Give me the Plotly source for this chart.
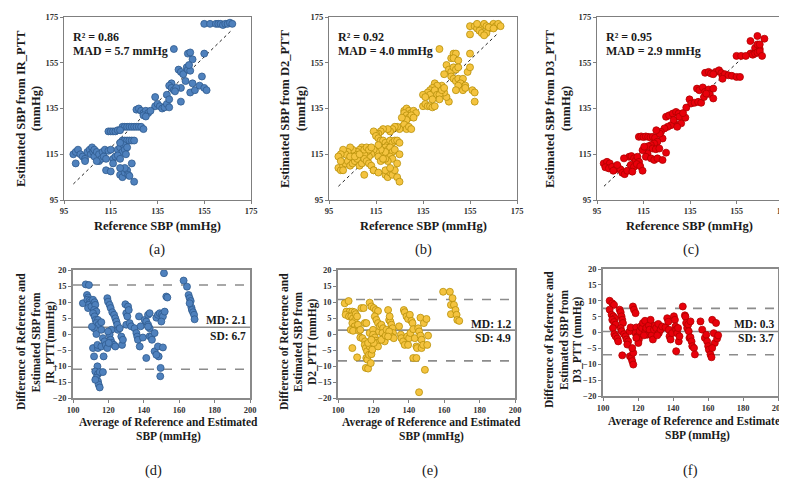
import plotly.graph_objects as go

W, H = 787, 481
FONT = "Liberation Serif"

# ---------------- data : top row (reference vs estimated SBP) ----------------
a_ref = [155, 157.5, 160, 161, 162, 163, 164, 165, 166, 167,
         142, 148, 149, 155, 150,
         144, 145, 146, 147.5, 148, 149, 148.5, 154,
         145, 141, 140, 141, 142, 143, 142.5, 147, 150, 149, 151, 153, 155, 156,
         145, 139,
         134, 134, 135, 136, 137, 138, 139, 140, 140,
         126, 127, 128, 129, 130, 131, 132, 129, 130,
         120, 121, 122, 123, 124, 125, 126, 127, 128, 129,
         114, 115, 116, 117, 118, 119,
         120, 121, 122, 123, 124, 125,
         118, 119, 120, 120.5, 121, 122, 121.5, 119,
         99, 100, 101, 102, 103, 104, 105, 106, 106.5, 107, 107.5, 108, 108, 109, 110,
         110, 111, 111.5, 112, 112.5, 113, 114, 115, 116, 117,
         100, 104, 109, 113, 115, 116, 118, 119,
         119, 120, 121, 122, 122.5, 123, 121, 119, 124, 125]
a_est = [172, 172, 172, 172, 172, 171.5, 172, 172, 172.5, 172,
         161, 159, 159.5, 159, 156.5,
         152, 151, 150, 153, 152, 151.5, 154, 149,
         144, 146, 145, 144, 143, 144, 142.5, 147, 146, 142, 143, 145, 144, 143,
         138, 141,
         140, 136, 137, 136, 135, 135.5, 137, 135.5, 139,
         134.5, 135, 134, 133, 134, 133, 134, 132, 131.5,
         127, 127, 127, 127, 127, 127, 127, 127, 127, 126,
         125, 125, 125, 125, 125.5, 125.5,
         121, 121, 121, 121, 121, 121,
         117, 118, 116, 119, 117, 118, 115, 120,
         115, 116, 117, 115, 114, 113, 116, 117, 115, 118, 116, 117, 114, 116, 115,
         112, 113, 116, 114, 117, 113, 116.5, 117, 113, 114,
         111, 112, 112, 108, 107.5, 111, 114.5, 113,
         106, 105, 107, 108, 106, 105.5, 109, 109, 111, 103]
a_fit_x = [99, 166.5]
a_fit_y = [102, 169]

b_ref = [155, 157, 158, 160, 161, 162, 163, 164, 165, 166, 167, 168, 159, 160, 162, 163, 158, 165, 155, 161,
         142, 155, 147, 148, 149, 148, 150,
         145, 146, 147, 148, 149, 150, 147, 148, 149, 150, 152, 151, 153, 150, 149, 152, 153, 154, 155, 156,
         157, 157, 146, 145, 144, 143, 144,
         140, 141, 139, 138, 137, 138, 140, 141, 142, 142, 143, 144, 139, 135, 136, 137, 138, 139, 140, 135, 136,
         127, 128, 129, 130, 131, 132, 127, 128, 129, 130, 131, 128, 126,
         126, 127, 128, 129, 130, 125, 124, 123, 122, 121, 120, 118, 117, 116, 115, 114, 115, 116, 117,
         118, 119, 120, 121, 122, 123, 124, 125, 119, 120, 121, 122, 123, 121, 122, 120, 119, 124, 125, 118, 119, 117, 116,
         115, 114, 116, 117, 118, 113, 112, 111, 110, 109, 108, 107, 106, 105, 104, 103, 102, 101, 100, 99,
         99, 100, 101, 102, 103, 104, 105, 106, 107, 108, 109, 110, 111, 112, 113, 114, 100, 101, 104, 106,
         108, 110, 111, 112, 113,
         110, 114, 116, 119, 120, 121, 122, 123, 124, 125, 119, 121]
b_est = [171, 171, 170, 171, 172, 171, 170, 171, 172, 171, 172, 171, 169, 168, 168, 170.5, 172, 170, 167.4, 167,
         161, 159, 157, 159, 159, 157, 156,
         154, 152, 151, 153, 152, 153, 149, 148, 147, 148, 148, 146, 145, 145, 143, 143, 144, 151, 153, 143,
         142, 138, 138, 140, 142, 145, 150,
         146, 145, 144, 143, 142, 141, 143, 141, 141, 139, 143, 144, 139, 136, 137, 136, 136, 135.5, 136, 141, 140,
         134, 135, 134, 133, 134, 133, 133, 132, 131, 132, 131, 130, 131,
         127, 128, 126, 127, 126, 126, 127, 127, 126, 125, 126, 126, 125, 124, 124, 125, 123, 122, 121,
         121, 120, 119, 121, 120, 121, 121, 120, 118, 117, 118, 116, 117, 114, 113, 112, 113, 111, 115, 115, 116, 117, 119,
         116, 117, 114, 112, 113, 115, 114, 116, 115, 118, 117, 116, 115, 117, 118, 116, 115, 117, 115, 114,
         109, 108, 110, 111, 112, 110, 111, 112, 113, 110, 111, 113, 112, 111, 110, 108, 112, 108, 114, 114,
         115, 117, 118, 117, 118,
         106, 108, 107, 106, 105, 107, 106, 108, 105, 103, 108, 109]
b_fit_x = [99, 167]
b_fit_y = [101, 168]

c_ref = [164, 167, 161, 163, 165, 161, 162, 163, 164, 165, 166, 155, 157, 159, 164, 165,
         141.5, 143, 144, 146, 147.5, 148.5, 149, 150, 151.5, 153, 155, 156.5, 149, 145,
         138, 139, 140.5, 141.5, 143, 143.5, 145, 145, 134.8, 135.5, 137, 138.5, 139.8, 133.4, 141, 142,
         124.7, 126, 127.6, 129, 130.1, 131.2, 128.3, 126.8, 125.4, 124, 129.5, 128, 130.4, 133, 132,
         113, 114, 115, 116, 117, 118, 119, 120, 122.5, 123.2, 121, 119.6, 118.2, 117, 118.9,
         120.3, 121.8, 116.7, 116, 118.2, 119.6, 121, 123.2, 124.7, 114.6, 115.3, 122, 120.5,
         97.9, 99.3, 100.5, 98.6, 100.1, 101.5, 103, 104, 105.1, 105.9, 106.9, 108, 108.8, 109.8,
         110.9, 111.7, 112.4, 113.1, 109.5, 110.9, 112.1, 113.6, 114.6, 106.6, 103.7, 102, 110.2]
c_est = [166.7, 165.5, 164.5, 161.5, 161, 159, 158.5, 159, 159.5, 160, 158, 158, 158, 158, 163, 163,
         150.6, 151, 150.3, 151, 151.7, 150.5, 149, 150, 149.5, 149.3, 148.8, 148.8, 148, 150,
         143.7, 143, 144.2, 142.3, 143.3, 141.3, 139.4, 143.7, 139, 137.2, 137.5, 137.9, 137.5, 135.4, 140, 141.5,
         131.4, 132, 132.8, 133.5, 132.8, 128.5, 128.5, 127.7, 127, 126.3, 127, 130, 131.4, 131, 133,
         122.6, 122.8, 122.5, 122.8, 122.6, 122.4, 122.6, 122.2, 124.8, 121.9, 120.5, 119.7, 119, 118.5, 117.5,
         117.2, 117.5, 115.4, 113.9, 113.2, 112.5, 113.2, 112.5, 115.7, 116.8, 118.3, 124, 125.5,
         111, 111.7, 111, 109.3, 108.8, 109.5, 108.4, 109.3, 108.4, 106.9, 106.3, 107.8, 113.9, 114.2,
         113.2, 112.2, 113.9, 111.7, 110.3, 109.5, 110.7, 109.8, 107.8, 113.2, 110.3, 107.8, 107.4]
c_fit_x = [98, 167.5]
c_fit_y = [101, 166.5]

top_stats = [("0.86", "5.7"), ("0.92", "4.0"), ("0.95", "2.9")]
top_names = ["IR_PTT", "D2_PTT", "D3_PTT"]

# ---------------- data : bottom row (Bland-Altman) ----------------
d_avg = [107.2, 109, 105.6,
         107.9, 108.5, 108.1, 109.4, 110, 109, 108.5, 110.4, 111.3, 112.2, 112.6, 111.9, 113.2, 111.3, 112.2,
         112.8, 114.1, 113.2, 114.5, 116, 111.9, 110.7, 113.2, 111.3, 114.1, 113.8, 116, 116, 116.9, 117.9,
         118.5, 119.4, 117.3, 111.9, 113.8, 112.6, 114.1, 115.1, 113.2, 114.1, 114.5, 115.1, 112.6, 116.9,
         119.4, 119.8, 120.7, 121.3, 122.2, 123.2, 123.9, 124.5, 125, 125.4, 121.7, 120.7, 121.3, 122, 123.2,
         123.9, 120.2, 127.3, 127.7, 128.2, 126.4, 119.8,
         129.6, 131.1, 130.1, 130.7, 131.5, 130.1, 132, 132.9, 134.8,
         135.8, 136.3, 136.7, 137.7, 137.3, 138.2, 139.5, 140.5, 141.4, 142.4, 143.3, 141.4, 142.4, 143.3,
         143.3, 144.3, 144.6, 142.4,
         146.1, 147.1, 148, 149, 150.3, 150.8, 151.8, 149.9, 146.1, 148, 148.4, 149.5, 149.3, 150.8, 147.1,
         151.4, 152.7, 153.3,
         162.5, 164.4, 165.3, 165.9, 166.5, 166.9, 167.2, 167.8, 168.4, 168.7, 165.9]
d_diff = [15.5, 15.3, 9.6,
          12.2, 11.4, 10.7, 10.4, 9.9, 9.1, 8.1, 8.6, 10.7, 9.9, 9.1, 7.5, 7.0, 6.5, 5.5,
          4.4, 4.4, 3.4, 2.9, 3.7, 1.8, 2.3, 0, -4.4, -4.4, -3.4, -3.9, 1.3, -1.3, -2.3,
          -3.4, -4.4, -7, -7, -10.1, -11.7, -12.5, -11.9, -13.7, -14.8, -15.8, -16.7, -14.3, -11.9,
          11.2, 10.1, 9.1, 8.1, 6.8, 6, 4.9, 3.9, 2.9, 1.3, 1.3, -0.2, -1.8, -2.8, -3.4,
          -3.9, -2.8, -0.8, -3.4, -1.8, 1.8, 0.8,
          9.3, 8.6, 6.5, 5.5, 7.5, 2.9, 3.4, 2.4, 1.8,
          0.3, -0.8, -1.8, -3.9, 5.5, 2.4, -1.1, 4.4, 3.9, 2.9, 1.8, -7.5, 6, 6.5,
          -0.7, -0.8, -1.8, 2.3,
          0.3, 5.1, 6, 6.5, 6.2, 5.5, 7.0, 3.9, -5.4, -3.9, -7, -10.6, -13.2, -4.2, -6.5,
          19, 11.7, 11.4,
          16.7, 14.8, 12.2, 11.2, 10.3, 8.3, 7.5, 6.8, 6, 4.6, 9.6]

e_points = [(103.8, 9.6), (106, 10.3), (104.7, 7), (106.6, 7), (108.1, 7), (109.4, 6.8), (104.3, 6),
            (106.2, 5.5), (107.5, 5.5), (108.5, 4.9), (109.4, 4.1), (110, 6.2), (110.8, 5.5), (108.1, 3.4),
            (109.4, 2.4), (110.8, 1.8), (111.3, 2.9), (107.2, 1.3), (108.5, 1), (111.9, 1), (112.6, 1.3),
            (108.1, -4.4), (110.8, -7.3),
            (112.6, -1.1), (113.8, -1.3), (115.3, -2.3), (115.1, -3.4), (113.2, 8.1), (114.5, 8.1), (115.1, 3.4),
            (116, 3.4), (115.7, -4.4), (116.4, -5.4), (116, -7.5), (116.6, -8), (115.7, -10.6), (117, -10.8),
            (117.5, -6.5), (117.9, -3.9), (117, -2.8), (117.9, 0.3), (118.5, -9.1), (118.9, -6.3), (119.4, -4.9),
            (117.9, 9.8), (118.9, 8.6), (120.2, 8.1), (121.3, 7.5), (122.6, 7.2), (120.8, 5.5), (121.7, 4.4),
            (122.6, 3.4), (119.8, 1.3), (119.8, -0.2), (120.8, -1.1), (121.3, -2.1), (122, -2.8), (122.6, -3.9),
            (120.2, -2.8), (118.9, -1.8),
            (123.2, 0.8), (123.6, 2.4), (124.5, 2.9), (125.5, 1.8), (125.1, 0.3), (125.8, -1.3), (126.4, -2.3),
            (124.5, -1.8), (127, -0.5), (127.4, 1.3), (128.3, 7.5), (128.9, 4.4), (129.6, 3.9), (130.2, 2.9),
            (129.2, 5.5), (130.8, 1.8), (131.1, 0.3), (130.2, -0.8), (128.9, 0.8), (131.5, -1.3), (128.3, -0.8),
            (134.5, 2.4), (135.5, -0.2), (135.8, -1.3), (136.8, -2.3), (137.7, -3.4), (137.2, 7.5), (137.7, 6.8),
            (138.7, 5.5), (139.6, 4.7), (140.6, 6), (141.5, 4.1), (142.1, 3.4), (139.1, -0.8), (140.2, -1.3),
            (139.6, -3.4), (140.9, 0.3), (142.5, 1.5), (142.5, -7.5), (144.3, -7.5), (143.4, -1.3), (144.3, -3.9),
            (144.7, -4.4), (145.3, 1.8), (145.8, 0.8), (146.6, 5.1), (146.6, -0.5), (147.2, -1.8), (147.2, -4.4),
            (148.1, -3.4), (148.5, 3.4), (149.1, -11.2), (150, 4.7), (150.9, -0.5), (150.4, -3.4), (145.8, -18.2),
            (159.4, 13.2), (163.2, 13.2), (164.7, 11.2), (163.8, 9.1), (165.5, 9.1), (163.8, 6.2), (166.4, 7.5),
            (167, 6), (167.4, 4.4), (168.5, 4.1)]

f_points = [(103.8, 10), (105.3, 9.2), (106.3, 8.7), (103.8, 7.2), (104.9, 5.6), (105.9, 5.1), (106.8, 4.5),
            (105.3, 4), (106.3, 3.3), (107.2, 2.5), (105.7, 1.4), (106.5, -0.5), (107.2, -1.2), (108.2, -1.9),
            (108.7, -2.8),
            (109.5, 7.2), (110.1, 6.4), (110.6, 5.1), (111, 4), (111.4, 3), (110.1, 1.4), (110.6, 0.4), (112, -0.5),
            (111, -7.2), (112.9, -1.2), (113.5, -2.2), (114.4, -2.8), (115.2, 0.4), (115.8, 1.6), (113.9, -3.8),
            (115.4, -7.5), (116.2, -8), (116.7, -9), (117.3, -10.1), (117.3, -6.4), (116.7, -4.9),
            (117.1, 8.2), (117.7, 7.2), (118.6, 6.1), (119, 1.6), (118.6, -0.2), (119.6, -1.2), (120.5, -2.2),
            (120.2, -3.3), (119, -1.7), (120.9, 0.4), (121.5, 1.9), (122.4, 1.4), (122.8, 3), (124, 3.7),
            (124.3, 0.4), (125.3, -0.7), (123.4, -0.9), (124.7, 1.4), (126.2, 2.2), (126.6, 0.9), (127.2, 4),
            (127.8, -0.9), (128.5, -2.2), (129.1, 0.9), (129.7, 2.2), (130.4, 1.4), (131.6, 2.7), (131.9, -0.2),
            (132.9, 0.9), (133.8, 1.9), (131, -0.9),
            (135.7, 1.6), (136.7, 4.5), (137.3, 3.4), (137.6, 0.9), (138, -1.2), (138.6, -2.2), (139.5, -0.2),
            (140.5, 5.1), (141.1, 4), (141.4, 1.9), (141.8, 0.9), (142.4, -0.2), (141.8, -5.9), (142.9, 1.4),
            (143.3, -2.8), (143.7, -1.2),
            (145.6, 8.2), (146.8, 5.4), (147.1, 5), (147.5, 3), (148.1, 1.4), (148.7, 2.5), (149, 0.4),
            (149.4, -1.7), (150, -1.5), (150.6, -2.8), (151, -4.3), (152, -4.9), (152.5, -6.9), (150, 3.5),
            (155.7, 3.5), (156.7, 0.9), (158.2, -1.7), (159, -0.7), (159.5, -2.8), (160.1, -4.3), (160.5, -5.4),
            (161.4, -6.9), (162, -7.8), (162.4, 4), (163.3, -0.2), (163.9, -3.3), (164.6, 3), (165.2, -1.9),
            (165.8, -0.9), (162.4, -4.9)]

ba_md = [2.1, 1.2, 0.3]
ba_sd = [6.7, 4.9, 3.7]
ba_upper = [15.3, 10.8, 7.6]
ba_lower = [-11.0, -8.4, -7.0]

top_ticks = [95, 115, 135, 155, 175]
bot_xticks = [100, 120, 140, 160, 180, 200]
bot_yticks = [-20, -15, -10, -5, 0, 5, 10, 15, 20]

# ---------------- styling ----------------
fills = ["#4F81BD", "#F4C33F", "#E8000B"]
edges = ["#2F5A8E", "#B8900A", "#B00000"]

top_x = [(56, 243), (321, 509), (589, 775)]
top_y = (9, 192)
bot_x = [(65, 242), (330, 507), (595, 770)]
bot_y = [(262, 390), (262, 390), (261, 388)]


def dx(l, r):
    return [l / W, r / W]


def dy(t, b):
    return [1 - b / H, 1 - t / H]


def PX(x):
    return x / W


def PY(y):
    return 1 - y / H


fig = go.Figure()
layout = {}
annotations = []
shapes = []

tick_font = dict(family=FONT, size=8.5, color="#333333", weight="bold")
frame = dict(showline=True, mirror=True, linecolor="#7f7f7f", linewidth=1.3,
             showgrid=False, zeroline=False, ticks="outside", ticklen=3,
             tickcolor="#7f7f7f", tickfont=tick_font, automargin=False)

top_data = [(a_ref, a_est, a_fit_x, a_fit_y), (b_ref, b_est, b_fit_x, b_fit_y),
            (c_ref, c_est, c_fit_x, c_fit_y)]
bot_data = [(d_avg, d_diff),
            ([p[0] for p in e_points], [p[1] for p in e_points]),
            ([p[0] for p in f_points], [p[1] for p in f_points])]

for i in range(3):
    n = i + 1
    xs, ys, fx, fy = top_data[i]
    xa = "x" if n == 1 else f"x{n}"
    ya = "y" if n == 1 else f"y{n}"
    fig.add_trace(go.Scatter(x=fx, y=fy, mode="lines", xaxis=xa, yaxis=ya,
                             line=dict(color="#222222", width=1, dash="dot"),
                             showlegend=False, hoverinfo="skip"))
    fig.add_trace(go.Scatter(x=xs, y=ys, mode="markers", xaxis=xa, yaxis=ya,
                             marker=dict(size=7, color=fills[i],
                                         line=dict(color=edges[i], width=0.8)),
                             showlegend=False))
    layout["xaxis" if n == 1 else f"xaxis{n}"] = dict(
        frame, domain=dx(*top_x[i]), range=[95, 175], tickvals=top_ticks,
        anchor=ya)
    layout["yaxis" if n == 1 else f"yaxis{n}"] = dict(
        frame, domain=dy(*top_y), range=[95, 175], tickvals=top_ticks,
        anchor=xa)

for i in range(3):
    n = i + 4
    xs, ys = bot_data[i]
    xa, ya = f"x{n}", f"y{n}"
    fig.add_trace(go.Scatter(x=xs, y=ys, mode="markers", xaxis=xa, yaxis=ya,
                             marker=dict(size=7, color=fills[i],
                                         line=dict(color=edges[i], width=0.8)),
                             showlegend=False))
    layout[f"xaxis{n}"] = dict(frame, domain=dx(*bot_x[i]), range=[100, 200],
                               tickvals=bot_xticks, anchor=ya, linewidth=1.8,
                               linecolor="#8a8a8a")
    layout[f"yaxis{n}"] = dict(frame, domain=dy(*bot_y[i]), range=[-20, 20],
                               tickvals=bot_yticks, anchor=xa, linewidth=1.8,
                               linecolor="#8a8a8a")
    for val, dash in [(ba_md[i], "solid"), (ba_upper[i], "dash"), (ba_lower[i], "dash")]:
        shapes.append(dict(type="line", xref=xa, yref=ya, x0=100, x1=200, y0=val, y1=val,
                           layer="below", line=dict(color="#8c8c8c", width=1.6, dash=dash)))


def ann(text, x, y, size=12.5, angle=0, xanchor="center", yanchor="middle", bold=True):
    t = f"<b>{text}</b>" if bold else text
    annotations.append(dict(text=t, x=PX(x), y=PY(y), xref="paper", yref="paper",
                            showarrow=False, xanchor=xanchor, yanchor=yanchor,
                            textangle=angle, align="center",
                            font=dict(family=FONT, size=size, color="#1a1a1a")))


# top row texts
top_xt_centers = [149, 415, 681]
top_yt_lines = [(13, 28), (277, 293), (542, 558)]
captions_top = ["(a)", "(b)", "(c)"]
cap_top_x = [149, 415, 683]
for i in range(3):
    ann("Reference SBP (mmHg)", top_xt_centers[i], 218)
    ann(f"Estimated SBP from {top_names[i]}", top_yt_lines[i][0], 101, angle=-90)
    ann("(mmHg)", top_yt_lines[i][1], 101, angle=-90)
    r2, mad = top_stats[i]
    lx = top_x[i][0] + 7
    ann(f"R² = {r2}", lx, 29, size=12, xanchor="left")
    ann(f"MAD = {mad} mmHg", lx, 43, size=12, xanchor="left")
    ann(captions_top[i], cap_top_x[i], 241, size=14.5, bold=False)

# bottom row texts
bot_xt_centers = [160, 424, 689]
bot_xt_rows = [(414, 428), (414, 428), (413, 427)]
bot_yt_lines = [(13, 27.5, 41.5), (276, 290, 304), (541, 556, 569)]
bot_yt_center = [334, 334, 332]
bot_ylast = ["IR_PTT(mmHg)", "D2_PTT (mmHg)", "D3_PTT (mmHg)"]
captions_bot = ["(d)", "(e)", "(f)"]
cap_bot_x = [145, 422, 682]
md_y = [(312, 328), (316, 330), (316, 330)]
for i in range(3):
    ann("Average of Reference and Estimated", bot_xt_centers[i], bot_xt_rows[i][0], size=11.5)
    ann("SBP (mmHg)", bot_xt_centers[i], bot_xt_rows[i][1], size=11.5)
    ylines = ["Difference of Reference and", "Estimated SBP from", bot_ylast[i]]
    for k in range(3):
        ann(ylines[k], bot_yt_lines[i][k], bot_yt_center[i], size=11.5, angle=-90)
    rx = bot_x[i][1] - 2
    ann(f"MD: {ba_md[i]}", rx, md_y[i][0], size=11.5, xanchor="right")
    ann(f"SD: {ba_sd[i]}", rx, md_y[i][1], size=11.5, xanchor="right")
    ann(captions_bot[i], cap_bot_x[i], 462, size=14.5, bold=False)

fig.update_layout(width=W, height=H, margin=dict(l=0, r=0, t=0, b=0, autoexpand=False),
                  paper_bgcolor="white", plot_bgcolor="white",
                  annotations=annotations, shapes=shapes, **layout)

fig.write_html("out.html")
